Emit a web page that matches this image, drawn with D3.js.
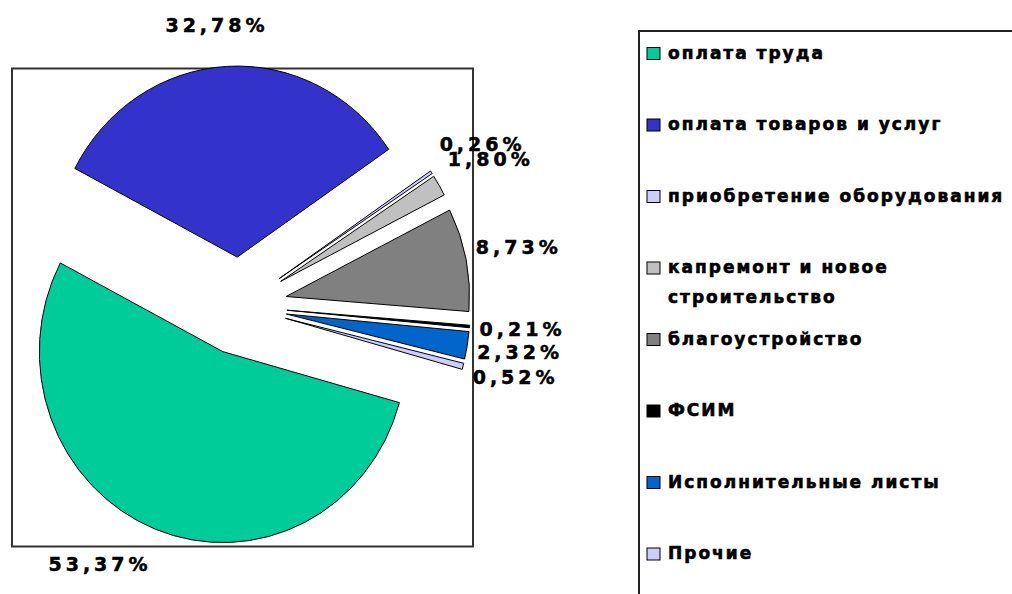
<!DOCTYPE html>
<html lang="ru">
<head>
    <meta charset="utf-8">
    <title>Структура расходов</title>
    <style>
        body {
            margin: 0;
            background: #fff;
        }
        .pct {
            font: bold 19px "DejaVu Sans", sans-serif;
            letter-spacing: 4px;
            stroke: #000;
            stroke-width: 0.5px;
        }
        .leg {
            font: bold 17px "DejaVu Sans", sans-serif;
            letter-spacing: 2px;
            stroke: #000;
            stroke-width: 0.6px;
        }
    </style>
</head>
<body>
<svg id="chart"></svg>
<script src="https://d3js.org/d3.v7.min.js"></script>
<script>
    // categories, in legend / pie order
    const categories = [
        "оплата труда",
        "оплата товаров и услуг",
        "приобретение оборудования",
        "капремонт и новое строительство",
        "благоустройство",
        "ФСИМ",
        "Исполнительные листы",
        "Прочие"
    ];
    // share of total, %
    const shares = [53.37, 32.78, 0.26, 1.80, 8.73, 0.21, 2.32, 0.52];
    const pctLabels = ["53,37%", "32,78%", "0,26%", "1,80%", "8,73%", "0,21%", "2,32%", "0,52%"];
    const colors = ["#00cc99", "#3333cc", "#ccccff", "#c0c0c0", "#808080", "#000000", "#0066cc", "#ccccff"];

    const W = 1012, H = 594;
    const plot = {x: 12, y: 68.5, w: 461, h: 478};
    const cx = 240, cy = 306;      // pie centre
    const R = 191;                 // radius
    const explode = 49;            // slice offset
    const kx = 0.96;               // horizontal squash of the original picture
    const rad = Math.PI / 180;
    const start = 105.5 * rad;

    const svg = d3.select("#chart").attr("width", W).attr("height", H);

    // plot area frame
    svg.append("rect")
        .attr("x", plot.x).attr("y", plot.y)
        .attr("width", plot.w).attr("height", plot.h)
        .attr("fill", "none")
        .attr("stroke", "#333")
        .attr("stroke-width", 2);

    const data = categories.map((c, i) => ({name: c, value: shares[i], label: pctLabels[i], color: colors[i]}));

    const pie = d3.pie().sort(null).value(d => d.value)
        .startAngle(start).endAngle(start + 2 * Math.PI);
    const arcs = pie(data);
    const arc = d3.arc().innerRadius(0).outerRadius(R);

    const g = svg.append("g")
        .attr("transform", "translate(" + cx + "," + cy + ") scale(" + kx + ",1)");

    g.selectAll("path")
        .data(arcs)
        .enter()
        .append("path")
        .attr("d", arc)
        .attr("transform", function(d){
            const m = (d.startAngle + d.endAngle) / 2;
            return "translate(" + explode * Math.sin(m) + "," + (-explode * Math.cos(m)) + ")";
        })
        .attr("fill", d => d.data.color)
        .attr("stroke", "#000")
        .attr("stroke-width", 1)
        .attr("vector-effect", "non-scaling-stroke");

    // percentage labels, placed outside the slice edge
    const clamp = v => Math.max(-1, Math.min(1, v));
    const labels = svg.selectAll(".pct")
        .data(arcs)
        .enter()
        .append("text")
        .attr("class", "pct")
        .attr("text-anchor", "middle")
        .attr("dy", "0.36em")
        .attr("fill", "#000")
        .text(d => d.data.label);

    labels.each(function(d){
        const m = (d.startAngle + d.endAngle) / 2;
        const s = Math.sin(m), c = Math.cos(m);
        const ex = cx + kx * (R + explode) * s;
        const ey = cy - (R + explode) * c;
        const px = ex + 10 * s;
        const py = ey - 30 * c;
        const hw = this.getComputedTextLength() / 2;
        const hh = 9;
        d3.select(this)
            .attr("x", px + hw * clamp(3 * s))
            .attr("y", py + hh * clamp(-2.5 * c) - 2);
    });

    // legend
    const leg = {x: 639, y: 31, textX: 668, maxW: 350};
    svg.append("rect")
        .attr("x", leg.x).attr("y", leg.y)
        .attr("width", 420).attr("height", 620)
        .attr("fill", "none")
        .attr("stroke", "#222")
        .attr("stroke-width", 2);

    const ly = d3.scalePoint().domain(categories).range([53.5, 554]);

    const items = svg.selectAll(".item")
        .data(data)
        .enter()
        .append("g")
        .attr("class", "item")
        .attr("transform", d => "translate(0," + ly(d.name) + ")");

    items.append("rect")
        .attr("x", 647).attr("y", -6)
        .attr("width", 13).attr("height", 12)
        .attr("fill", d => d.color)
        .attr("stroke", "#000")
        .attr("stroke-width", 1);

    items.append("text")
        .attr("class", "leg")
        .attr("x", leg.textX)
        .attr("fill", "#000")
        .each(function(d){
            // wrap words to legend width
            const t = d3.select(this);
            const words = d.name.split(" ");
            let line = [];
            let tspan = t.append("tspan").attr("x", leg.textX).attr("dy", "0.32em");
            words.forEach(function(w){
                line.push(w);
                tspan.text(line.join(" "));
                if (tspan.node().getComputedTextLength() > leg.maxW && line.length > 1) {
                    line.pop();
                    tspan.text(line.join(" "));
                    line = [w];
                    tspan = t.append("tspan").attr("x", leg.textX).attr("dy", 30).text(w);
                }
            });
        });
</script>
</body>
</html>
